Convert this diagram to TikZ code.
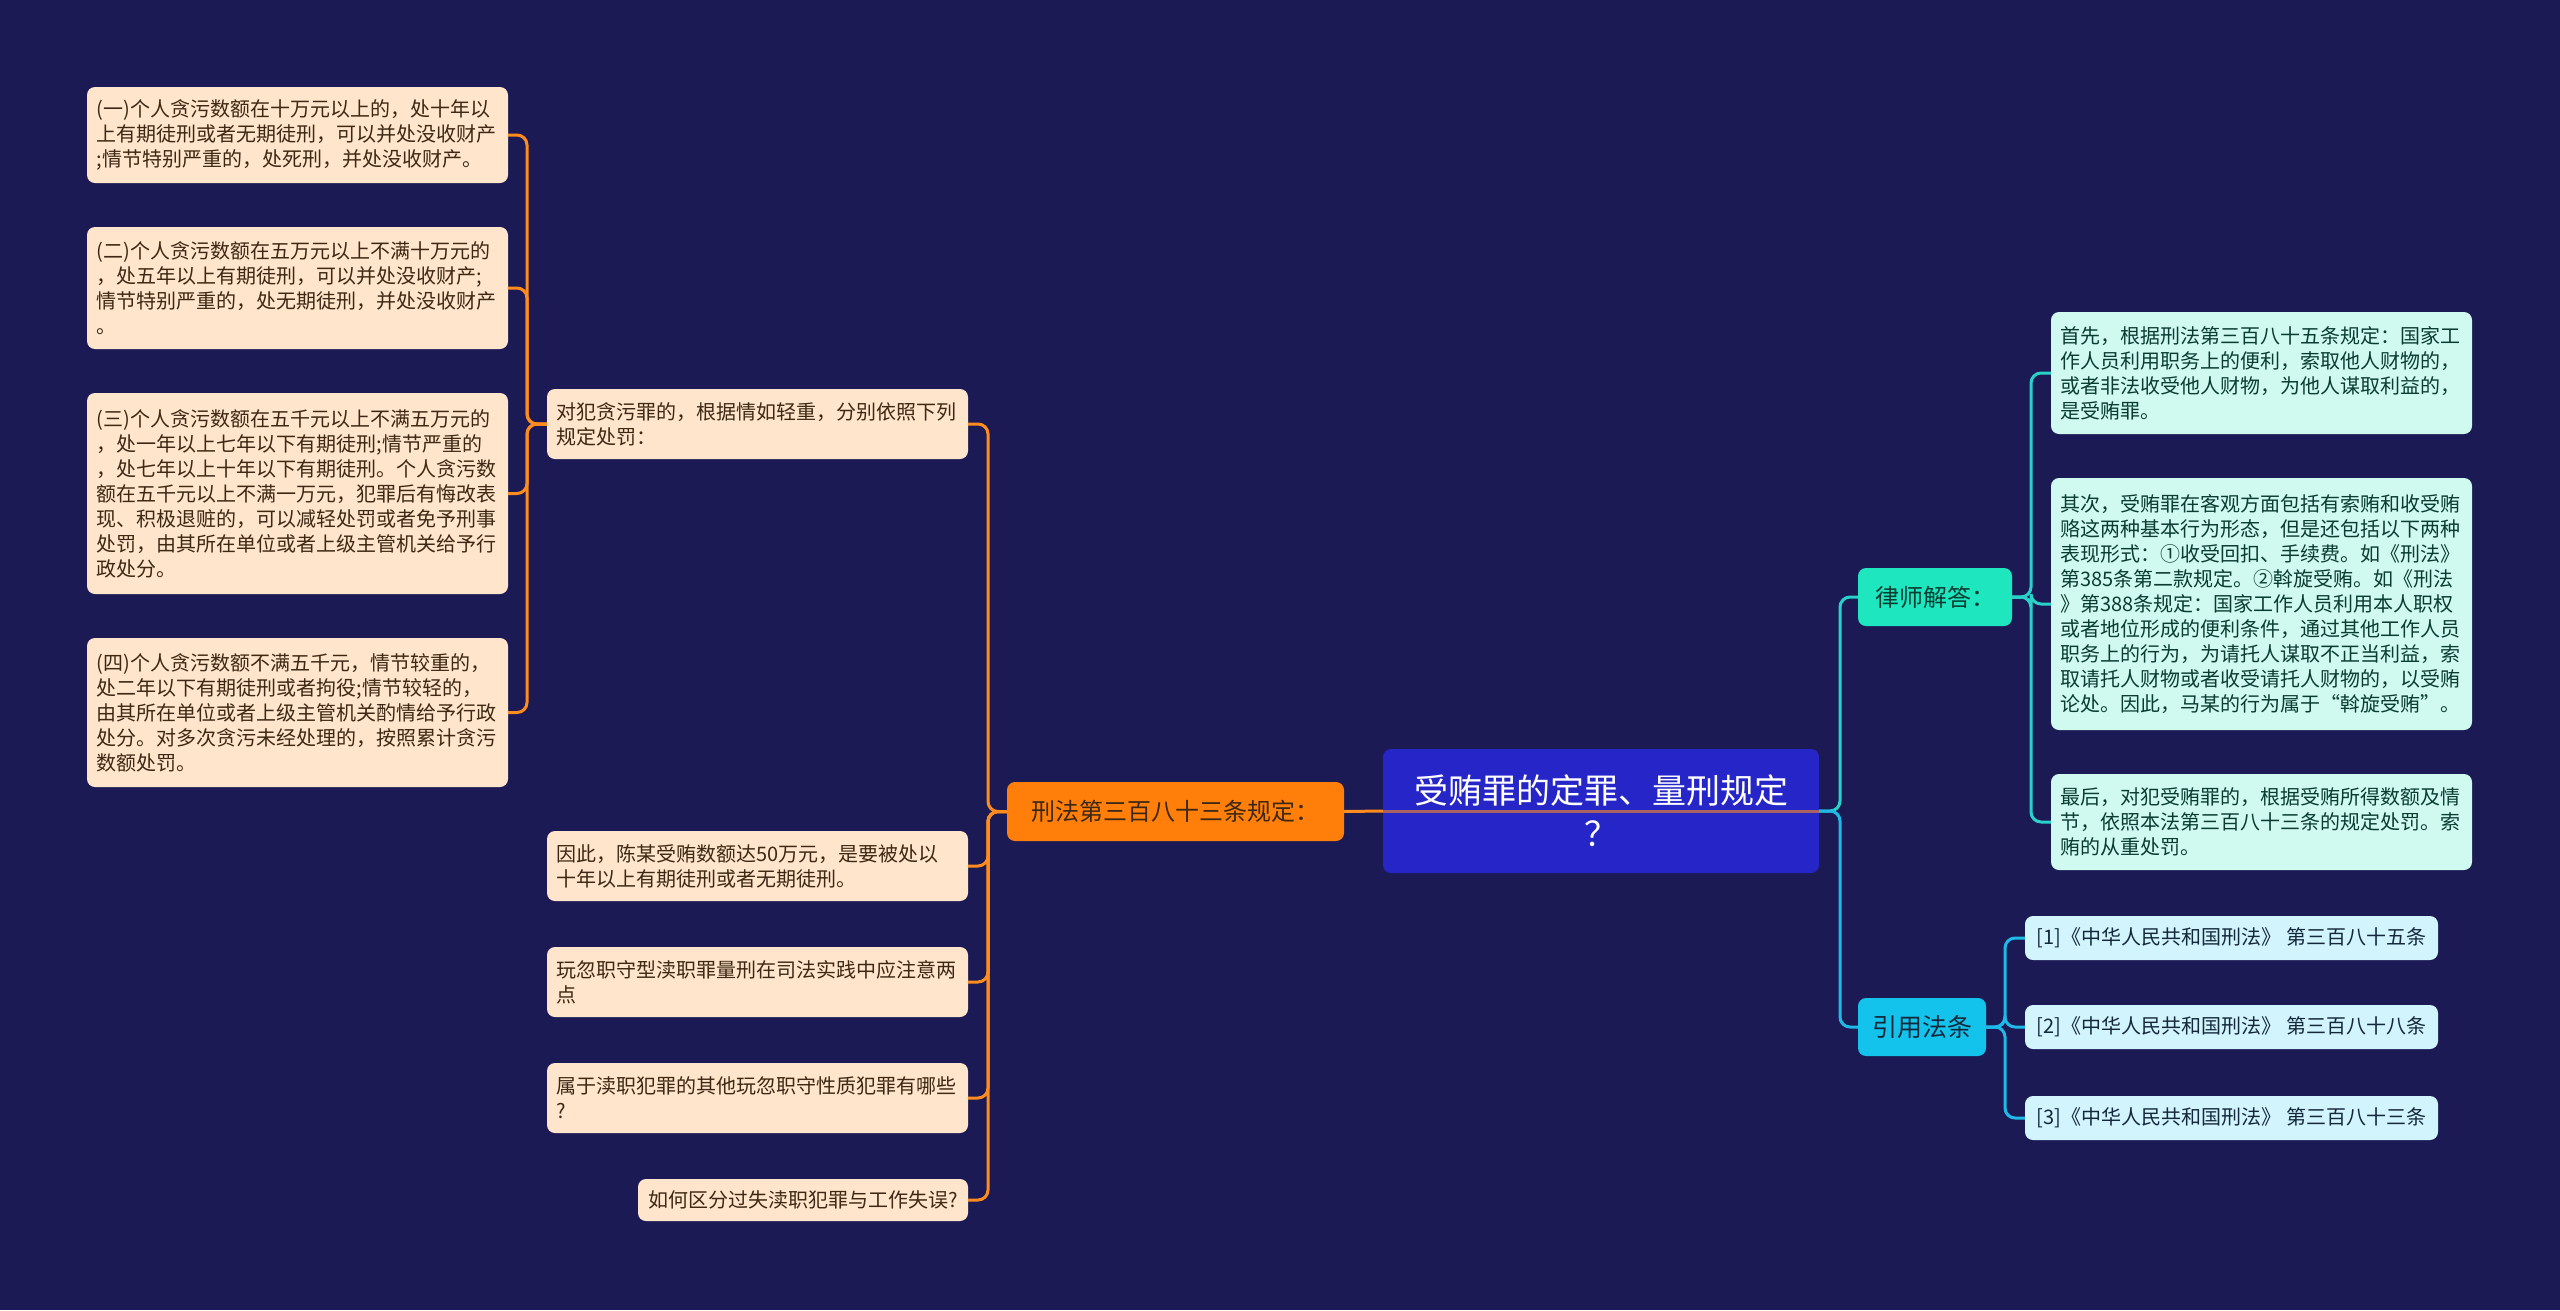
\documentclass[tikz,border=0pt]{standalone}
\usepackage{fontspec}
\setmainfont{Noto Sans CJK SC}
\XeTeXlinebreaklocale "zh"
\definecolor{bgc}{RGB}{27,26,84}
\definecolor{centc}{RGB}{38,38,200}
\definecolor{orc}{RGB}{255,127,10}
\definecolor{olc}{RGB}{255,140,30}
\definecolor{peachc}{RGB}{255,229,204}
\definecolor{peachtxt}{RGB}{60,40,20}
\definecolor{tealc}{RGB}{30,230,190}
\definecolor{tlc}{RGB}{40,210,200}
\definecolor{ltealc}{RGB}{208,250,240}
\definecolor{ltealtxt}{RGB}{10,60,50}
\definecolor{bluec}{RGB}{20,195,235}
\definecolor{blc}{RGB}{30,185,230}
\definecolor{lbluec}{RGB}{210,244,252}
\definecolor{lbluetxt}{RGB}{20,40,60}
\begin{document}
\begin{tikzpicture}[x=1pt,y=-1pt,
  box/.style={rounded corners=8pt, inner sep=0pt, align=left, font=\fontsize{20}{25}\selectfont},
  peach/.style={box, fill=peachc, text=peachtxt, text width=402pt, minimum width=421pt},
  lteal/.style={box, fill=ltealc, text=ltealtxt, text width=402pt, minimum width=421pt},
  lblue/.style={box, fill=lbluec, text=lbluetxt, align=center, minimum width=413pt, minimum height=44pt},
  conn/.style={line width=3pt, rounded corners=10pt},
  oline/.style={conn, draw=olc},
  tline/.style={conn, draw=tlc},
  bline/.style={conn, draw=blc}]
\useasboundingbox (0,0) rectangle (2560,1310);
\fill[bgc] (0,0) rectangle (2560,1310);
% trunk coordinates
\coordinate (tA) at (527,0);
\coordinate (tB) at (988,0);
\coordinate (tC) at (1840,0);
\coordinate (tD) at (2031,0);
\coordinate (tE) at (2005,0);
% central
\node[rounded corners=8pt, fill=centc, text=white, align=center, inner sep=0pt,
  minimum width=436pt, minimum height=124pt, font=\fontsize{34}{43}\selectfont] (c) at (1601,811) {受贿罪的定罪、量刑规定\\？};
% orange main
\node[rounded corners=8pt, fill=orc, text=peachtxt, inner sep=0pt,
  minimum width=337pt, minimum height=59pt, font=\fontsize{24}{28}\selectfont] (m) at (1175.5,811.5) {刑法第三百八十三条规定：};
% middle column
\node[peach, minimum height=70pt] (p1) at (757.5,424) {对犯贪污罪的，根据情如轻重，分别依照下列\\规定处罚：};
\node[peach, minimum height=70pt] (p2) at (757.5,866) {因此，陈某受贿数额达50万元，是要被处以\\十年以上有期徒刑或者无期徒刑。};
\node[peach, minimum height=70pt] (p3) at (757.5,982) {玩忽职守型渎职罪量刑在司法实践中应注意两\\点};
\node[peach, minimum height=70pt] (p4) at (757.5,1098) {属于渎职犯罪的其他玩忽职守性质犯罪有哪些\\?};
\node[box, fill=peachc, text=peachtxt, minimum width=330pt, minimum height=42pt, align=center] (p5) at (803,1200) {如何区分过失渎职犯罪与工作失误?};
% left column
\node[peach, minimum height=96pt] (a) at (297.5,135) {(一)个人贪污数额在十万元以上的，处十年以\\上有期徒刑或者无期徒刑，可以并处没收财产\\;情节特别严重的，处死刑，并处没收财产。};
\node[peach, minimum height=122pt] (b) at (297.5,288) {(二)个人贪污数额在五万元以上不满十万元的\\，处五年以上有期徒刑，可以并处没收财产;\\情节特别严重的，处无期徒刑，并处没收财产\\。};
\node[peach, minimum height=201pt] (cc) at (297.5,493.5) {(三)个人贪污数额在五千元以上不满五万元的\\，处一年以上七年以下有期徒刑;情节严重的\\，处七年以上十年以下有期徒刑。个人贪污数\\额在五千元以上不满一万元，犯罪后有悔改表\\现、积极退赃的，可以减轻处罚或者免予刑事\\处罚，由其所在单位或者上级主管机关给予行\\政处分。};
\node[peach, minimum height=149pt] (d) at (297.5,712.5) {(四)个人贪污数额不满五千元，情节较重的，\\处二年以下有期徒刑或者拘役;情节较轻的，\\由其所在单位或者上级主管机关酌情给予行政\\处分。对多次贪污未经处理的，按照累计贪污\\数额处罚。};
% right side
\node[rounded corners=8pt, fill=tealc, text=ltealtxt, inner sep=0pt,
  minimum width=154pt, minimum height=58pt, font=\fontsize{24}{28}\selectfont] (l) at (1935,597) {律师解答：};
\node[rounded corners=8pt, fill=bluec, text=lbluetxt, inner sep=0pt,
  minimum width=128pt, minimum height=58pt, font=\fontsize{25}{28}\selectfont] (r) at (1922,1027) {引用法条};
\node[lteal, minimum height=122pt] (l1) at (2261.5,373) {首先，根据刑法第三百八十五条规定：国家工\\作人员利用职务上的便利，索取他人财物的，\\或者非法收受他人财物，为他人谋取利益的，\\是受贿罪。};
\node[lteal, minimum height=252pt] (l2) at (2261.5,604) {其次，受贿罪在客观方面包括有索贿和收受贿\\赂这两种基本行为形态，但是还包括以下两种\\表现形式：①收受回扣、手续费。如《刑法》\\第385条第二款规定。②斡旋受贿。如《刑法\\》第388条规定：国家工作人员利用本人职权\\或者地位形成的便利条件，通过其他工作人员\\职务上的行为，为请托人谋取不正当利益，索\\取请托人财物或者收受请托人财物的，以受贿\\论处。因此，马某的行为属于“斡旋受贿”。};
\node[lteal, minimum height=96pt] (l3) at (2261.5,822) {最后，对犯受贿罪的，根据受贿所得数额及情\\节，依照本法第三百八十三条的规定处罚。索\\贿的从重处罚。};
\node[lblue] (r1) at (2231.5,938) {[1]《中华人民共和国刑法》 第三百八十五条};
\node[lblue] (r2) at (2231.5,1027) {[2]《中华人民共和国刑法》 第三百八十八条};
\node[lblue] (r3) at (2231.5,1118) {[3]《中华人民共和国刑法》 第三百八十三条};
% connectors
\draw[oline] (m.east) -- (c.west);
\draw[oline, opacity=0.6] (c.west) -- (c.east);
\foreach \k in {p1,p2,p3,p4,p5} \draw[oline] (m.west) -- (m.west -| tB) |- (\k.east);
\foreach \k in {a,b,cc,d} \draw[oline] (p1.west) -- (p1.west -| tA) |- (\k.east);
\draw[tline] (c.east) -- (c.east -| tC) |- (l.west);
\draw[bline] (c.east) -- (c.east -| tC) |- (r.west);
\foreach \k in {l1,l2,l3} \draw[tline] (l.east) -- (l.east -| tD) |- (\k.west);
\foreach \k in {r1,r2,r3} \draw[bline] (r.east) -- (r.east -| tE) |- (\k.west);
\end{tikzpicture}
\end{document}
